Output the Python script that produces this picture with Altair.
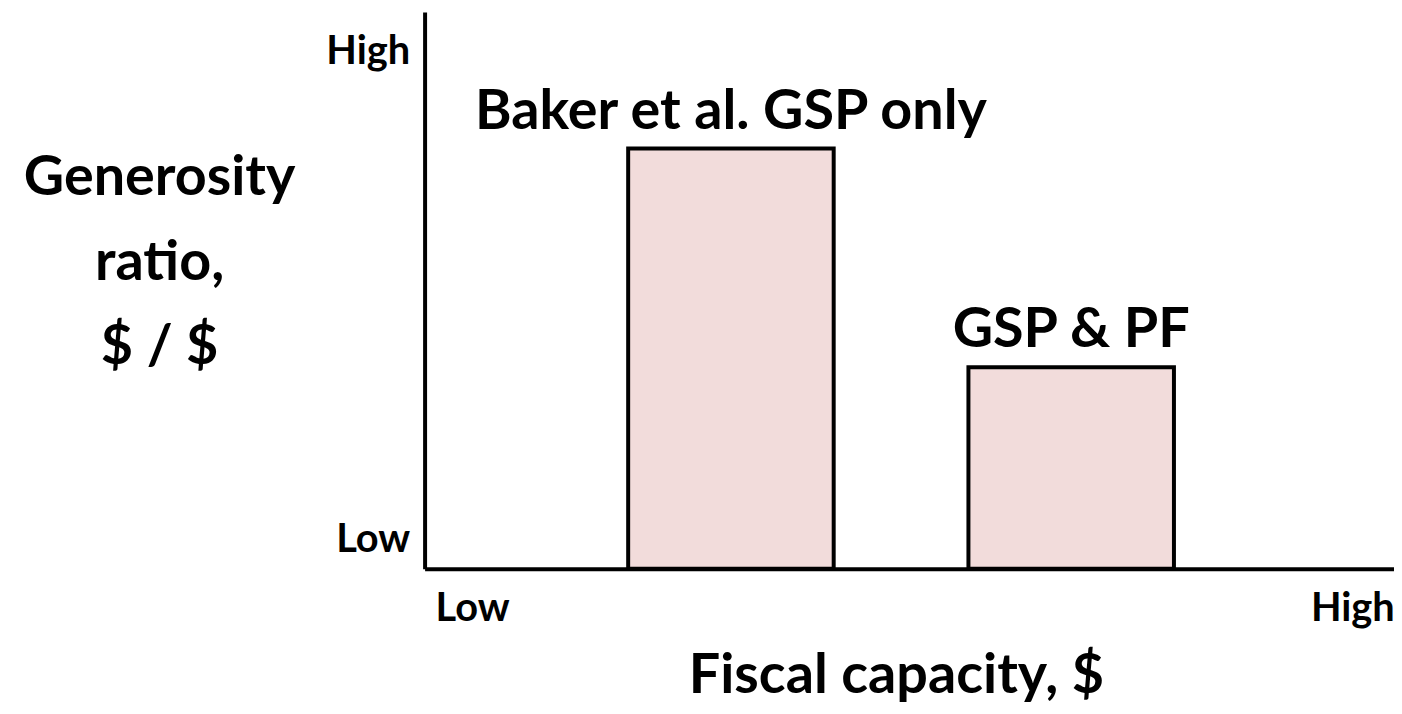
import altair as alt
import pandas as pd

# data
bar_labels = ["Baker et al. GSP only", "GSP & PF"]
bar_x_start = [21.0, 56.1]
bar_x_end = [42.2, 77.3]
bar_heights = [75.5, 36.2]

x_tick_values = [4.9, 95.7]
x_tick_labels = ["Low", "High"]
y_tick_values = [5.2, 92.9]
y_tick_labels = ["Low", "High"]

FONT = "Lato"
FILL = "#F2DCDB"

df = pd.DataFrame({
    "label": bar_labels,
    "x0": bar_x_start,
    "x1": bar_x_end,
    "h": bar_heights,
})
df["xc"] = (df["x0"] + df["x1"]) / 2

def label_expr(values, labels):
    parts = " : ".join([f"datum.value == {v} ? '{l}'" for v, l in zip(values, labels)])
    return parts + " : ''"

xscale = alt.Scale(domain=[0, 100], nice=False, zero=False)
yscale = alt.Scale(domain=[0, 100], nice=False, zero=False)

bars = alt.Chart(df).mark_bar(fill=FILL, stroke="black", strokeWidth=4).encode(
    x=alt.X("x0:Q", scale=xscale, axis=alt.Axis(
        values=x_tick_values,
        labelExpr=label_expr(x_tick_values, x_tick_labels),
        ticks=False, grid=False, domainColor="black", domainWidth=4,
        labelFont=FONT, labelFontWeight="bold", labelFontSize=40, labelColor="black",
        labelPadding=40, labelBaseline="middle", labelAlign="center", labelFlush=False,
        title="Fiscal capacity, $", titleFont=FONT, titleFontWeight="bold",
        titleFontSize=56, titleColor="black", titleX=474, titleY=124,
        titleBaseline="alphabetic", titleAnchor="middle", titleAlign="center",
    )),
    x2="x1:Q",
    y=alt.Y("h:Q", scale=yscale, axis=alt.Axis(
        values=y_tick_values,
        labelExpr=label_expr(y_tick_values, y_tick_labels),
        ticks=False, grid=False, domainColor="black", domainWidth=4,
        labelFont=FONT, labelFontWeight="bold", labelFontSize=40, labelColor="black",
        labelPadding=15, labelBaseline="middle",
        title=["Generosity", "ratio,", "$ / $"], titleFont=FONT, titleFontWeight="bold",
        titleFontSize=56, titleColor="black", titleAngle=0, titleX=-267, titleY=167,
        titleBaseline="middle", titleAlign="center", titleLineHeight=85,
    )),
    y2=alt.datum(0),
)

texts = alt.Chart(df).mark_text(
    font=FONT, fontWeight="bold", fontSize=56, color="black", baseline="middle", dy=-37
).encode(
    x=alt.X("xc:Q", scale=xscale),
    y=alt.Y("h:Q", scale=yscale),
    text="label:N",
)

chart = (bars + texts).properties(
    width=975, height=560,
    autosize=alt.AutoSizeParams(type="none"),
    padding={"left": 419, "top": 2, "right": 0, "bottom": 136},
).configure(background="white").configure_view(stroke=None)

chart.save("out.html", embed_options={"renderer": "svg", "actions": False})
